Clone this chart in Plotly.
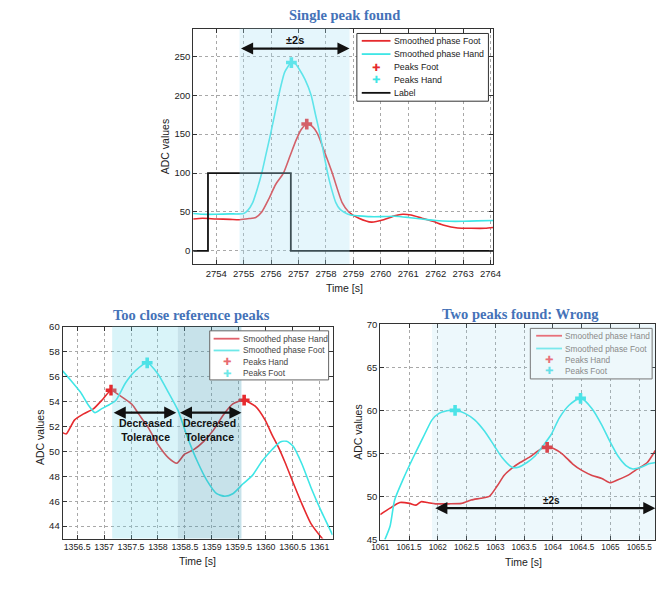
import plotly.graph_objects as go

# ---------------- data: top panel (Single peak found) ----------------
top_hand_t = [2753.16, 2753.5, 2754.0, 2754.5, 2755.0, 2755.15, 2755.33, 2755.5, 2755.66, 2755.82,
              2755.98, 2756.13, 2756.28, 2756.5, 2756.74, 2756.9, 2757.0, 2757.24, 2757.46, 2757.62,
              2757.78, 2757.92, 2758.06, 2758.2, 2758.36, 2758.5, 2758.65, 2758.9, 2759.2, 2759.6,
              2760.0, 2760.5, 2761.0, 2761.5, 2762.0, 2762.5, 2763.0, 2763.5, 2764.1]
top_hand_v = [48, 47, 47, 47.5, 48, 52, 62, 80, 100, 125,
              150, 175, 200, 230, 242, 240, 235, 220, 200, 175,
              150, 125, 100, 80, 62, 54, 50, 46, 45, 44,
              44, 44.5, 43, 41, 39, 38, 38, 38.5, 39]
top_foot_t = [2753.16, 2753.5, 2754.0, 2754.5, 2754.85, 2755.2, 2755.44, 2755.66, 2755.92, 2756.16,
              2756.45, 2756.69, 2756.92, 2757.1, 2757.3, 2757.5, 2757.7, 2757.95, 2758.23, 2758.59,
              2758.83, 2759.2, 2759.66, 2760.1, 2760.5, 2760.8, 2761.1, 2761.5, 2761.9, 2762.3,
              2762.8, 2763.3, 2763.8, 2764.1]
top_foot_v = [41, 42, 41, 40.5, 40, 41.5, 43, 50, 67, 85,
              100, 122, 143, 156, 163, 160, 150, 127, 100, 62,
              50, 42, 37, 40, 45, 47, 46, 42, 38, 33,
              29.5, 29, 29, 30]
top_label_t = [2753.16, 2753.7, 2753.7, 2756.72, 2756.72, 2764.1]
top_label_v = [0, 0, 100, 100, 0, 0]
top_peak_hand = ([2756.74], [242])
top_peak_foot = ([2757.3], [163])
top_window = (2754.85, 2758.86)
top_xticks = [2754, 2755, 2756, 2757, 2758, 2759, 2760, 2761, 2762, 2763, 2764]
top_yticks = [0, 50, 100, 150, 200, 250]

# ---------------- data: bottom-left (Too close reference peaks) ----------------
bl_hand_t = [1356.23, 1356.3, 1356.45, 1356.62, 1356.8, 1356.98, 1357.13, 1357.28, 1357.52, 1357.64,
             1357.82, 1358.0, 1358.19, 1358.35, 1358.49, 1358.67, 1358.85, 1359.03, 1359.21, 1359.39,
             1359.59, 1359.81, 1359.99, 1360.12, 1360.24, 1360.36, 1360.48, 1360.67, 1360.84, 1361.05,
             1361.15]
bl_hand_v = [51.5, 51.4, 52.5, 53.0, 53.4, 54.2, 54.9, 54.5, 53.75, 53.0,
             51.9, 50.55, 49.5, 49.05, 49.75, 50.15, 50.8, 51.7, 52.9, 53.8,
             54.1, 53.6, 52.5, 51.3, 50.3, 49.1, 47.8, 45.8, 44.2, 43.0,
             42.5]
bl_foot_t = [1356.23, 1356.38, 1356.56, 1356.71, 1356.83, 1356.95, 1357.1, 1357.22, 1357.4, 1357.58,
             1357.8, 1358.0, 1358.19, 1358.37, 1358.55, 1358.73, 1358.91, 1359.09, 1359.24, 1359.39,
             1359.58, 1359.75, 1359.93, 1360.12, 1360.27, 1360.39, 1360.51, 1360.67, 1360.84, 1361.02,
             1361.24]
bl_foot_v = [56.45, 55.7, 54.75, 53.7, 53.1, 53.4, 53.75, 54.1, 55.5, 56.45,
             57.1, 56.2, 54.75, 53.3, 51.1, 49.2, 47.65, 46.6, 46.4, 46.6,
             47.4, 48.05, 49.2, 50.15, 50.75, 50.8, 50.4, 49.0, 47.1, 45.3,
             43.3]
bl_peak_hand = ([1357.13, 1359.6], [54.9, 54.1])
bl_peak_foot = ([1357.8], [57.1])
bl_window1 = (1357.15, 1358.37)
bl_window2 = (1358.37, 1359.55)
bl_xticks = [1356.5, 1357, 1357.5, 1358, 1358.5, 1359, 1359.5, 1360, 1360.5, 1361]
bl_yticks = [44, 46, 48, 50, 52, 54, 56, 58, 60]

# ---------------- data: bottom-right (Two peaks found: Wrong) ----------------
br_hand_t = [1061.0, 1061.17, 1061.34, 1061.51, 1061.62, 1061.71, 1061.82, 1061.96, 1062.19, 1062.41,
             1062.58, 1062.75, 1062.9, 1063.04, 1063.15, 1063.29, 1063.43, 1063.6, 1063.74, 1063.86,
             1064.0, 1064.17, 1064.34, 1064.51, 1064.68, 1064.85, 1064.99, 1065.13, 1065.3, 1065.47,
             1065.64, 1065.78]
br_hand_v = [47.9, 48.65, 49.3, 49.2, 49.0, 49.4, 49.3, 49.15, 49.15, 49.2,
             49.6, 49.8, 50.05, 51.3, 52.45, 53.3, 53.95, 54.6, 55.3, 55.75,
             55.6, 54.9, 53.8, 53.0, 52.45, 52.1, 51.6, 51.95, 52.45, 53.2,
             53.95, 55.35]
br_foot_t = [1061.08, 1061.17, 1061.25, 1061.4, 1061.57, 1061.74, 1061.9, 1062.02, 1062.16, 1062.3,
             1062.47, 1062.64, 1062.81, 1062.98, 1063.12, 1063.29, 1063.4, 1063.55, 1063.69, 1063.83,
             1063.97, 1064.11, 1064.28, 1064.48, 1064.68, 1064.85, 1064.99, 1065.13, 1065.27, 1065.39,
             1065.53, 1065.67, 1065.78]
br_foot_v = [45.0, 46.55, 49.6, 52.05, 54.5, 56.8, 58.9, 59.65, 59.95, 60.04,
             59.65, 58.9, 57.6, 55.9, 54.5, 53.4, 53.4, 53.95, 54.7, 55.9,
             57.2, 59.1, 60.6, 61.45, 60.2, 58.3, 56.4, 54.7, 53.6, 53.2,
             53.4, 53.8, 53.95]
br_peak_hand = ([1063.9], [55.7])
br_peak_foot = ([1062.3, 1064.48], [60.0, 61.4])
br_window = (1061.9, 1065.78)
br_xticks = [1061, 1061.5, 1062, 1062.5, 1063, 1063.5, 1064, 1064.5, 1065, 1065.5]
br_yticks = [45, 50, 55, 60, 65, 70]

# ---------------- styling ----------------
W, H = 665, 591
RED = "#e62a2e"
CYAN = "#3fe6e6"
FONT = "Liberation Sans"
TITLE_FONT = dict(family="Liberation Serif", size=14.5, color="#4472b8")


def px_x(p):
    return p / W


def px_y(p):
    return 1 - p / H


fig = go.Figure()


def add_line(t, v, color, name, xa, ya, width=1.6, shape="spline"):
    fig.add_trace(go.Scatter(x=t, y=v, mode="lines", name=name,
                             line=dict(color=color, width=width, shape=shape, smoothing=0.6),
                             xaxis=xa, yaxis=ya, showlegend=False))


def add_peaks(pk, color, name, xa, ya):
    fig.add_trace(go.Scatter(x=pk[0], y=pk[1], mode="markers", name=name,
                             marker=dict(symbol="cross", size=9, color=color,
                                         line=dict(width=0)),
                             xaxis=xa, yaxis=ya, showlegend=False))


# top panel
add_line(top_foot_t, top_foot_v, RED, "Smoothed phase Foot", "x", "y")
add_line(top_hand_t, top_hand_v, CYAN, "Smoothed phase Hand", "x", "y")
add_peaks(top_peak_foot, RED, "Peaks Foot", "x", "y")
add_peaks(top_peak_hand, CYAN, "Peaks Hand", "x", "y")
add_line(top_label_t, top_label_v, "#111111", "Label", "x", "y", width=1.8, shape="linear")

# bottom-left
add_line(bl_hand_t, bl_hand_v, RED, "Smoothed phase Hand", "x2", "y2")
add_line(bl_foot_t, bl_foot_v, CYAN, "Smoothed phase Foot", "x2", "y2")
add_peaks(bl_peak_hand, RED, "Peaks Hand", "x2", "y2")
add_peaks(bl_peak_foot, CYAN, "Peaks Foot", "x2", "y2")

# bottom-right
add_line(br_hand_t, br_hand_v, RED, "Smoothed phase Hand", "x3", "y3")
add_line(br_foot_t, br_foot_v, CYAN, "Smoothed phase Foot", "x3", "y3")
add_peaks(br_peak_hand, RED, "Peaks Hand", "x3", "y3")
add_peaks(br_peak_foot, CYAN, "Peaks Foot", "x3", "y3")


def axis(dom, rng, ticks, anchor, fsize):
    return dict(domain=dom, range=rng, tickvals=ticks, ticktext=[f"{v:g}" for v in ticks],
                anchor=anchor, showgrid=True,
                gridcolor="#a8a8a8", griddash="dot", gridwidth=1,
                showline=True, linecolor="#333333", linewidth=1, mirror="ticks",
                ticks="inside", ticklen=4, tickcolor="#333333",
                tickfont=dict(family=FONT, size=fsize, color="#222222"),
                zeroline=False, fixedrange=True)


# shading rectangles (drawn on top, semi-transparent like the original)
shapes = [
    dict(type="rect", xref="x", yref="y domain", x0=top_window[0], x1=top_window[1], y0=0, y1=1,
         fillcolor="rgba(170,224,245,0.30)", line=dict(width=0), layer="above"),
    dict(type="rect", xref="x2", yref="y2 domain", x0=bl_window1[0], x1=bl_window1[1], y0=0, y1=1,
         fillcolor="rgba(120,215,235,0.28)", line=dict(width=0), layer="above"),
    dict(type="rect", xref="x2", yref="y2 domain", x0=bl_window2[0], x1=bl_window2[1], y0=0, y1=1,
         fillcolor="rgba(70,160,185,0.30)", line=dict(width=0), layer="above"),
    dict(type="rect", xref="x3", yref="y3 domain", x0=br_window[0], x1=br_window[1], y0=0, y1=1,
         fillcolor="rgba(140,210,235,0.16)", line=dict(width=0), layer="above"),
]

annotations = []


def arrow(xa, ya, x0, x1, y):
    annotations.append(dict(xref=xa, yref=ya, axref=xa, ayref=ya, x=x1, y=y, ax=x0, ay=y,
                            text="", showarrow=True, arrowhead=2, arrowside="end+start",
                            arrowsize=1.1, arrowwidth=2.2, arrowcolor="#111111"))


arrow("x", "y", top_window[0], top_window[1], 260)
annotations.append(dict(xref="x", yref="y", x=(top_window[0] + top_window[1]) / 2, y=271,
                        text="<b>±2s</b>", showarrow=False,
                        font=dict(family=FONT, size=11, color="#111111")))
arrow("x2", "y2", bl_window1[0], bl_window1[1] - 0.03, 53.1)
arrow("x2", "y2", bl_window2[0] + 0.01, bl_window2[1], 53.1)
for cx in [(bl_window1[0] + bl_window1[1]) / 2, (bl_window2[0] + bl_window2[1]) / 2]:
    annotations.append(dict(xref="x2", yref="y2", x=cx, y=51.7,
                            text="<b>Decreased<br>Tolerance</b>", showarrow=False,
                            font=dict(family=FONT, size=10.5, color="#111111")))
arrow("x3", "y3", br_window[0] + 0.03, br_window[1], 48.65)
annotations.append(dict(xref="x3", yref="y3", x=1063.97, y=49.55,
                        text="<b>±2s</b>", showarrow=False,
                        font=dict(family=FONT, size=10, color="#111111")))

# titles
for txt, cx, cy in [("<b>Single peak found</b>", 344, 9),
                    ("<b>Too close reference peaks</b>", 187, 315),
                    ("<b>Two peaks found: Wrong</b>", 525, 314)]:
    annotations.append(dict(xref="paper", yref="paper", x=px_x(cx), y=px_y(cy),
                            text=txt, showarrow=False, font=TITLE_FONT,
                            xanchor="center", yanchor="middle"))

# axis titles
for cx, cy in [(160, 143), (32, 440), (358, 434)]:
    annotations.append(dict(xref="paper", yref="paper", x=px_x(cx), y=px_y(cy),
                            text="ADC values", textangle=-90, showarrow=False,
                            font=dict(family=FONT, size=10.5, color="#222222"),
                            xanchor="center", yanchor="middle"))
for cx, cy in [(344, 287), (193, 566), (528, 567)]:
    annotations.append(dict(xref="paper", yref="paper", x=px_x(cx), y=px_y(cy),
                            text="Time [s]", showarrow=False,
                            font=dict(family=FONT, size=10.5, color="#222222"),
                            xanchor="center", yanchor="middle"))


# MATLAB-style legend boxes (compact), drawn in paper pixels
def legend_box(box, rows, lx0, lx1, tx, fsize, tcolor, bcolor, bg):
    x0, y0, x1, y1 = box
    shapes.append(dict(type="rect", xref="paper", yref="paper",
                       x0=px_x(x0), x1=px_x(x1), y0=px_y(y1), y1=px_y(y0),
                       fillcolor=bg, line=dict(color=bcolor, width=1), layer="above"))
    for kind, color, text, ry in rows:
        if kind == "line":
            shapes.append(dict(type="line", xref="paper", yref="paper",
                               x0=px_x(lx0), x1=px_x(lx1), y0=px_y(ry), y1=px_y(ry),
                               line=dict(color=color, width=1.8), layer="above"))
        else:
            annotations.append(dict(xref="paper", yref="paper", x=px_x((lx0 + lx1) / 2),
                                    y=px_y(ry), text="✚", showarrow=False,
                                    font=dict(family="DejaVu Sans", size=10, color=color),
                                    xanchor="center", yanchor="middle"))
        annotations.append(dict(xref="paper", yref="paper", x=px_x(tx), y=px_y(ry),
                                text=text, showarrow=False,
                                font=dict(family=FONT, size=fsize, color=tcolor),
                                xanchor="left", yanchor="middle"))


legend_box((357, 28, 492, 97),
           [("line", RED, "Smoothed phase Foot", 35.5),
            ("line", CYAN, "Smoothed phase Hand", 49),
            ("mark", RED, "Peaks Foot", 62.3),
            ("mark", CYAN, "Peaks Hand", 75),
            ("line", "#111111", "Label", 88.5)],
           362, 391.5, 393, 8.8, "#222222", "#333333", "white")
legend_box((206, 331, 328, 381),
           [("line", "#e0606a", "Smoothed phase Hand", 339),
            ("line", "#6ee8e8", "Smoothed phase Foot", 351),
            ("mark", "#e86a70", "Peaks Hand", 362.3),
            ("mark", "#6ee8e8", "Peaks Foot", 374)],
           210, 236.5, 238, 8.3, "#444444", "#666666", "white")
legend_box((535, 328.5, 660, 380),
           [("line", "#e8707a", "Smoothed phase Hand", 336),
            ("line", "#7ae8ec", "Smoothed phase Foot", 349),
            ("mark", "#e8707a", "Peaks Hand", 360.3),
            ("mark", "#66e0e8", "Peaks Foot", 371.7)],
           541, 567.5, 569, 8.3, "#8a8a8a", "#777777", "#eef8fb")

fig.update_layout(
    width=W, height=H, margin=dict(l=0, r=0, t=0, b=0),
    paper_bgcolor="white", plot_bgcolor="white", showlegend=False,
    xaxis=axis([px_x(189), px_x(497)], [2753.16, 2764.1], top_xticks, "y", 9.5),
    yaxis=axis([px_y(263), px_y(23)], [-17, 285.7], top_yticks, "x", 9.5),
    xaxis2=axis([px_x(55), px_x(332)], [1356.23, 1361.24], bl_xticks, "y2", 8.8),
    yaxis2=axis([px_y(542.7), px_y(326.7)], [43, 60], bl_yticks, "x2", 9.5),
    xaxis3=axis([px_x(381), px_x(663.3)], [1061.0, 1065.78], br_xticks, "y3", 8.2),
    yaxis3=axis([px_y(543.7), px_y(324.3)], [45, 70], br_yticks, "x3", 9.5),
    shapes=shapes, annotations=annotations,
)

fig.write_html("out.html", config={"displayModeBar": False},
               post_script="document.body.style.margin='0';document.body.style.padding='0';"
                           "document.body.style.overflow='hidden';")
